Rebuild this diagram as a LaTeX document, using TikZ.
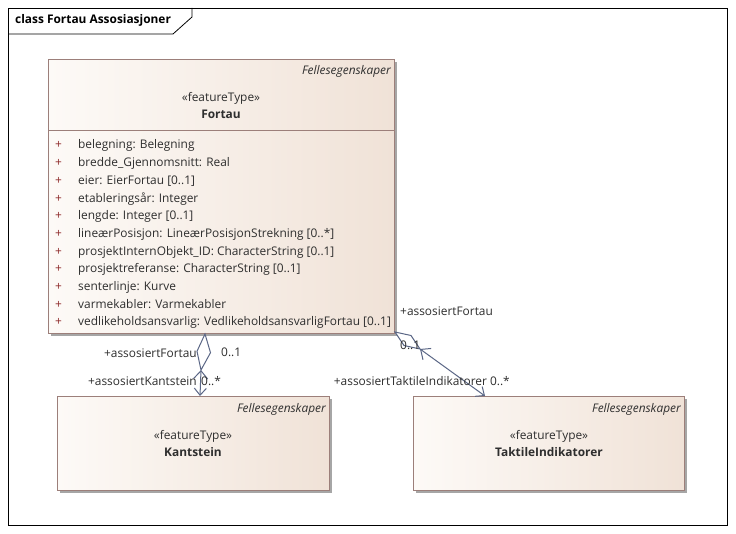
\documentclass[tikz,border=0pt]{standalone}
\usepackage{fontspec}
\setmainfont{Open Sans}
\usetikzlibrary{arrows.meta,calc,shadows}
\definecolor{boxborder}{HTML}{9C7F7A}
\definecolor{boxleft}{HTML}{FDFAF7}
\definecolor{boxright}{HTML}{F0E2D7}
\definecolor{conncol}{HTML}{5B6786}
\definecolor{txt}{HTML}{2E2E2E}
\definecolor{pluscol}{HTML}{8E2B2B}
\newcommand{\fsz}{\fontsize{11.9pt}{13pt}\selectfont}
\tikzset{
  fnt/.style={font=\fsz, inner sep=0pt, text=txt},
  boldfnt/.style={font=\fsz\bfseries, inner sep=0pt, text=txt},
  itfnt/.style={font=\fsz\itshape, inner sep=0pt, text=txt},
  classbox/.style={draw=boxborder, line width=0.8pt, left color=boxleft, right color=boxright,
     anchor=north west, inner sep=0pt,
     general shadow={fill=black!35, shadow xshift=3pt, shadow yshift=-3pt}},
  conn/.style={draw=conncol, line width=1pt},
  attr/.style={fnt, anchor=base west},
  plussign/.style={fnt, anchor=base west, text=pluscol},
  lbl/.style={fnt},
}
\begin{document}
\begin{tikzpicture}[x=1pt,y=-1pt]
\useasboundingbox (0,0) rectangle (736,534);
\fill[white] (0,0) rectangle (736,534);
% frame
\node[draw=black, line width=0.8pt, minimum width=719pt, minimum height=517pt, anchor=north west, inner sep=0pt] (frame) at (8,8) {};
\coordinate (tabA) at (8,34);
\coordinate (tabB) at (173,34);
\coordinate (tabC) at (192,17);
\coordinate (tabD) at (192,8);
\draw[line width=0.8pt] (tabA) -- (tabB) -- (tabC) -- (tabD);
\node[boldfnt, text=black, anchor=base west] (title) at (15,24) {class Fortau Assosiasjoner};

% Fortau
\node[classbox, minimum width=346pt, minimum height=274pt] (fortau) at (48,59) {};
\coordinate (fdivL) at (48,130);
\coordinate (fdivR) at (394,130);
\draw[draw=boxborder, line width=0.8pt] (fdivL) -- (fdivR);
\node[itfnt, anchor=base east] (fpkg) at (391,75) {Fellesegenskaper};
\node[fnt, anchor=base] (fst) at (221,102) {«featureType»};
\node[boldfnt, anchor=base] (fname) at (221,119) {Fortau};
\foreach \t [count=\i from 0] in {%
  belegning: Belegning,
  bredde\_Gjennomsnitt: Real,
  eier: EierFortau [0..1],
  etableringsår: Integer,
  lengde: Integer [0..1],
  lineærPosisjon: LineærPosisjonStrekning [0..*],
  prosjektInternObjekt\_ID: CharacterString [0..1],
  prosjektreferanse: CharacterString [0..1],
  senterlinje: Kurve,
  varmekabler: Varmekabler,
  vedlikeholdsansvarlig: VedlikeholdsansvarligFortau [0..1]} {
  \node[plussign] (p\i) at (55,149+17.7*\i) {+};
  \node[attr] (a\i) at (78,149+17.7*\i) {\t};
}

% Kantstein
\node[classbox, minimum width=272pt, minimum height=94pt] (kant) at (57,396) {};
\node[itfnt, anchor=base east] (kpkg) at (326,412) {Fellesegenskaper};
\node[fnt, anchor=base] (kst) at (193,439) {«featureType»};
\node[boldfnt, anchor=base] (kname) at (193,456) {Kantstein};

% TaktileIndikatorer
\node[classbox, minimum width=271pt, minimum height=94pt] (takt) at (413,396) {};
\node[itfnt, anchor=base east] (tpkg) at (681,412) {Fellesegenskaper};
\node[fnt, anchor=base] (tst) at (549,439) {«featureType»};
\node[boldfnt, anchor=base] (tname) at (549,456) {TaktileIndikatorer};

% Connector Fortau - Kantstein
\coordinate (d1A) at (205,334);
\coordinate (d1R) at (210.5,352.7);
\coordinate (d1B) at (201,370);
\coordinate (d1L) at (197,351.3);
\coordinate (kIn) at (200,396);
\draw[conn, fill=white] (d1A) -- (d1R) -- (d1B) -- (d1L) -- cycle;
\draw[conn, {Straight Barb[length=8pt,width=14pt]}-{Straight Barb[length=7pt,width=12pt]}] (d1B) -- (kIn);

% Connector Fortau - TaktileIndikatorer
\coordinate (d2A) at (395,332);
\coordinate (d2R) at (411,335.5);
\coordinate (d2B) at (420,349);
\coordinate (d2L) at (404,345.5);
\coordinate (tIn) at (485,396);
\draw[conn, fill=white] (d2A) -- (d2R) -- (d2B) -- (d2L) -- cycle;
\draw[conn, {Straight Barb[length=8pt,width=14pt]}-{Straight Barb[length=7pt,width=12pt]}] (d2B) -- (tIn);

% labels
\node[lbl, anchor=base east] (l1) at (197,358) {+assosiertFortau};
\node[lbl, anchor=base west] (l2) at (221,357) {0..1};
\node[lbl, anchor=base east] (l3) at (197,385) {+assosiertKantstein};
\node[lbl, anchor=base west] (l4) at (201,385) {0..*};
\node[lbl, anchor=base west] (l5) at (400,316) {+assosiertFortau};
\node[lbl, anchor=base west] (l6) at (400,349) {0..1};
\node[lbl, anchor=base east] (l7) at (510,385) {+assosiertTaktileIndikatorer 0..*};
\end{tikzpicture}
\end{document}
